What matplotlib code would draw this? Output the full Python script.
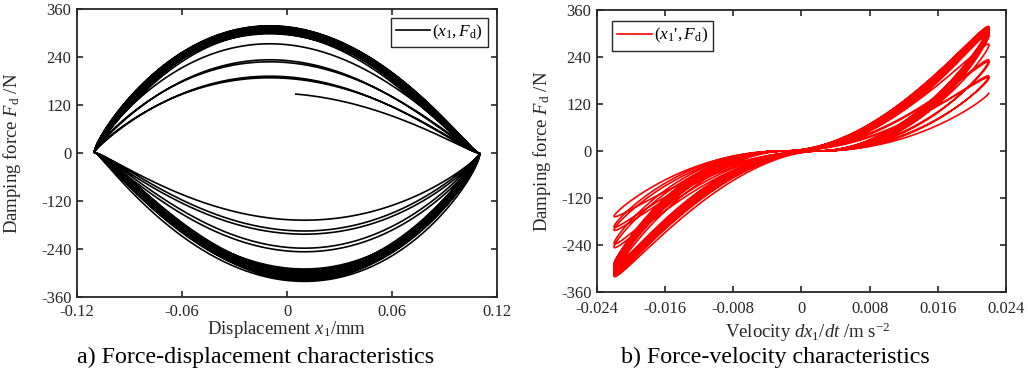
import numpy as np
import matplotlib.pyplot as plt

plt.rcParams['font.family'] = ['Liberation Serif', 'DejaVu Serif']
plt.rcParams['mathtext.fontset'] = 'custom'
plt.rcParams['mathtext.rm'] = 'Liberation Serif'
plt.rcParams['mathtext.it'] = 'Liberation Serif:italic'
plt.rcParams['axes.unicode_minus'] = False

peak_pos = [150, 188, 192, 228, 233, 273, 300, 306, 310, 314, 317, 312, 304,
            298, 309, 315, 318, 311, 303, 300, 308, 313]
peak_neg = [-168, -195, -203, -238, -247, -290, -298, -305, -312, -318, -321,
            -310, -300, -296, -304, -314, -318, -306, -300, -294, -309, -315]
# exponent of each half cycle (shape of the lens), estimated
shape_pos = [2.0, 2.0, 2.1, 2.0, 2.1, 2.0, 1.9, 2.1, 2.0, 2.2, 1.9, 2.0, 2.1,
             1.9, 2.2, 2.0, 1.9, 2.1, 2.0, 2.2, 1.9, 2.0]
shape_neg = [2.0, 2.1, 2.0, 2.1, 2.0, 1.9, 2.1, 2.2, 1.9, 2.0, 1.8, 2.1, 2.0,
             2.2, 1.9, 2.0, 2.1, 1.9, 2.2, 2.0, 2.1, 1.9]

x_amp = 0.11      # displacement amplitude
v_amp = 0.022     # velocity amplitude
lag = 0.09        # force lags velocity (rad)
x_start = 0.005   # first recorded displacement

yticks = [-360, -240, -120, 0, 120, 240, 360]
xticks_a = [-0.12, -0.06, 0, 0.06, 0.12]
xlabels_a = ['-0.12', '-0.06', '0', '0.06', '0.12']
xticks_b = [-0.024, -0.016, -0.008, 0, 0.008, 0.016, 0.024]
xlabels_b = ['-0.024', '-0.016', '-0.008', '0', '0.008', '0.016', '0.024']

# build the time history half cycle by half cycle
psi0 = np.arcsin(x_start / x_amp) + lag
psi_all, force_all = [], []
for k in range(len(peak_pos)):
    lo = psi0 if k == 0 else -np.pi / 2 + 2 * np.pi * k
    psi = np.linspace(lo, np.pi / 2 + 2 * np.pi * k, 240)
    psi_all.append(psi)
    force_all.append(peak_pos[k] * np.abs(np.cos(psi)) ** shape_pos[k])
    psi = np.linspace(np.pi / 2 + 2 * np.pi * k, 3 * np.pi / 2 + 2 * np.pi * k, 240)
    psi_all.append(psi)
    force_all.append(peak_neg[k] * np.abs(np.cos(psi)) ** shape_neg[k])
psi = np.concatenate(psi_all)
force = np.concatenate(force_all)
theta = psi - lag
disp = x_amp * np.sin(theta)
vel = v_amp * np.cos(theta)

fig = plt.figure(figsize=(10.28, 3.73), dpi=100)
ax1 = fig.add_axes([0.0749, 0.2038, 0.4086, 0.7721])
ax2 = fig.add_axes([0.5807, 0.2172, 0.3979, 0.7560])

ax1.plot(disp, force, color='k', lw=1.2, label=r'$(x_1, F_\mathrm{d})$')
ax2.plot(vel, force, color='red', lw=1.2, label=r"$(x_1$'$, F_\mathrm{d})$")

for ax, xt, xl in [(ax1, xticks_a, xlabels_a), (ax2, xticks_b, xlabels_b)]:
    ax.set_xlim(xt[0], xt[-1])
    ax.set_ylim(-360, 360)
    ax.set_xticks(xt)
    ax.set_xticklabels(xl)
    ax.set_yticks(yticks)
    ax.tick_params(direction='in', top=True, right=True, length=4, width=1.2,
                   labelsize=12, colors='#262626')
    ax.tick_params(axis='y', pad=4)
    for s in ax.spines.values():
        s.set_linewidth(1.3)
        s.set_color('#262626')
    ax.set_ylabel(r'Damping force $F_\mathrm{d}$ /N', fontsize=13.5, color='#262626')

ax1.tick_params(axis='x', pad=5)
ax2.tick_params(axis='x', pad=6.5)
ax1.set_xlabel(r'Displacement $x_1$/mm', fontsize=13.5, color='#262626')
ax2.set_xlabel(r'Velocity $dx_1/dt$ /m s$^{-2}$', fontsize=13.5, color='#262626')
ax1.yaxis.set_label_coords(-0.129, 0.5)
ax2.yaxis.set_label_coords(-0.108, 0.5)
ax1.xaxis.set_label_coords(0.5, -0.076)
ax2.xaxis.set_label_coords(0.515, -0.1)

leg1 = ax1.legend(loc='upper right', fontsize=12.5, fancybox=False, framealpha=1,
                  edgecolor='#262626', handlelength=2.0, borderpad=0.3,
                  handletextpad=0.1, borderaxespad=0.5)
leg2 = ax2.legend(loc='upper left', bbox_to_anchor=(0.037, 0.961), fontsize=12.5,
                  fancybox=False, framealpha=1, edgecolor='#262626',
                  handlelength=2.0, borderpad=0.3, handletextpad=0.1,
                  borderaxespad=0)
for leg in (leg1, leg2):
    leg.get_frame().set_linewidth(1.0)

fig.text(0.249, 0.043, 'a) Force-displacement characteristics', ha='center',
         va='center', fontsize=17.3)
fig.text(0.754, 0.043, 'b) Force-velocity characteristics', ha='center',
         va='center', fontsize=17.3)

fig.savefig('out.png', dpi=100)
